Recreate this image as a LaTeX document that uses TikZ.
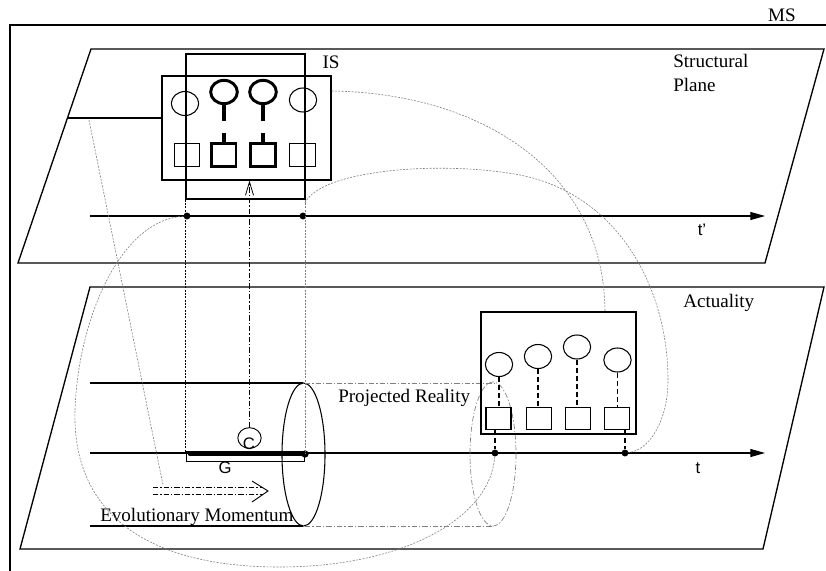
\documentclass[tikz,border=0pt]{standalone}
\usepackage{fontspec}
\setmainfont{Liberation Serif}
\setsansfont{Liberation Sans}
\usetikzlibrary{arrows.meta, shapes.geometric}

\tikzset{
  plane/.style={line width=1pt},
  axis/.style={line width=0.8pt, -{Triangle[length=11pt, width=6pt]}},
  bub/.style={draw, ellipse, line width=0.8pt, minimum width=20.5pt, minimum height=18pt, inner sep=0pt},
  bubthick/.style={bub, line width=2.2pt, minimum width=20pt, minimum height=17.5pt},
  sq/.style={draw, rectangle, line width=0.8pt, minimum width=19pt, minimum height=17.5pt, inner sep=0pt},
  sqthick/.style={sq, line width=2pt, minimum width=18.5pt, minimum height=17.5pt},
  stem/.style={line width=3pt},
  tie/.style={line width=1pt, dash pattern=on 3.75pt off 2.25pt},
  link/.style={gray, line width=0.45pt, dash pattern=on 1.5pt off 1pt},
  proj/.style={gray, line width=0.5pt, dash pattern=on 4pt off 1.5pt on 1pt off 1.5pt},
  dashdot/.style={line width=0.6pt, dash pattern=on 4pt off 1.5pt on 1pt off 1.5pt},
  lbl/.style={font=\fontsize{14.3}{18}\selectfont, inner sep=0pt},
  tlbl/.style={font=\sffamily\fontsize{12.5}{14}\selectfont, inner sep=0pt},
  dot/.style={circle, fill, inner sep=0pt, minimum size=5.2pt}
}

\begin{document}
\begin{tikzpicture}[x=0.75pt, y=-0.75pt, >=Stealth]
\useasboundingbox (0,0) rectangle (826,571);

\draw[line width=0.8pt] (10,571) -- (10,25) -- (826,25);
\node[lbl] (ms) at (782,15) {MS};

\draw[plane] (91,49) -- (824,49) -- (765,263) -- (18,263) -- cycle;
\node[lbl, anchor=north west, align=left] (structural) at (673,54) {Structural\\Plane};
\draw[plane] (90,287) -- (824,287) -- (763,549) -- (20,549) -- cycle;
\node[lbl, anchor=base west] (actuality) at (683,307) {Actuality};

\coordinate (tp0) at (90,216);
\coordinate (tp1) at (765,216);
\draw[axis] (tp0) -- (tp1);
\node[tlbl] (tprime) at (702,230) {t'};
\node[dot] (u1) at (187,216) {};
\node[dot] (u2) at (303,216) {};

\node[draw, line width=0.8pt, minimum width=126.75pt, minimum height=78pt] (isbox) at (246.5,128) {};
\node[draw, line width=0.8pt, minimum width=89.25pt, minimum height=108.75pt] (tallbox) at (245.5,126.5) {};
\node[lbl] (is) at (331,62) {IS};
\coordinate (lp) at (68,118);
\draw[line width=0.8pt] (lp) -- (lp -| isbox.west);

\node[bub] (a1) at (185,103.5) {};
\node[bubthick] (a2) at (224,92) {};
\node[bubthick] (a3) at (263,92) {};
\node[bub] (a4) at (303,100) {};
\node[sq] (b1) at (187,155) {};
\node[sqthick] (b2) at (223.5,155) {};
\node[sqthick] (b3) at (263,155) {};
\node[sq] (b4) at (302.5,155) {};
\draw[stem] (a2.south) -- ++(0,16);
\draw[stem] (a3.south) -- ++(0,16);
\draw[stem] (b2.north) -- ++(0,-9);
\draw[stem] (b3.north) -- ++(0,-9);

\coordinate (t0) at (90,453);
\coordinate (t1) at (765,453);
\draw[axis] (t0) -- (t1);
\node[tlbl] (tlab) at (698,468) {t};

\draw[line width=0.8pt] (90,383) -- (303,383);
\draw[line width=0.8pt] (90,526) -- (303,526);
\draw[line width=0.8pt] (303.5,454.5) ellipse [x radius=21.5, y radius=71.5];
\draw[proj] (305,383) -- (495,383);
\draw[proj] (305,526) -- (493,526);
\draw[proj] (493,454) ellipse [x radius=23, y radius=72];
\node[lbl, anchor=base west] (projected) at (338,402) {Projected Reality};

\draw[line width=0.6pt] (186,451) rectangle (304,461);
\coordinate (g1) at (190,454);
\node[dot, minimum size=5.5pt] (g2) at (305,454) {};
\draw[line width=3.2pt, line cap=round] (g1) -- (g2);
\node[tlbl] (glab) at (225,468) {G};
\node[draw, ellipse, line width=0.7pt, minimum width=17.5pt, minimum height=15.5pt, inner sep=0pt] (c) at (249.5,438) {};
\node[tlbl] (clab) at (249,444) {C};
\draw[dashdot, -{Straight Barb[length=10pt, width=6pt]}] (c.north) -- (c.north |- isbox.south);

\draw[line width=0.5pt, dash pattern=on 1.5pt off 1pt] (tallbox.south west) -- (tallbox.south west |- g1);
\draw[link] (tallbox.south east) -- (tallbox.south east |- g2);

\coordinate (em0) at (153,487);
\coordinate (em1) at (268,491);
\draw[dashdot] (em0) -- (263,487);
\draw[dashdot] (153,494) -- (263,494);
\draw[line width=0.7pt] (252,481) -- (em1) -- (252,502);
\node[lbl, anchor=base west] (evo) at (100,521) {Evolutionary Momentum};

\node[draw, line width=0.9pt, minimum width=116.25pt, minimum height=91.5pt] (actbox) at (558.5,373) {};
\node[bub] (c1) at (499,364.5) {};
\node[bub] (c2) at (538,356.5) {};
\node[bub] (c3) at (577,347) {};
\node[bub] (c4) at (617.5,360) {};
\node[sq, minimum width=18.75pt, minimum height=17pt] (q1) at (498.5,418.5) {};
\node[sq, minimum width=18.75pt, minimum height=17pt] (q2) at (539,418.5) {};
\node[sq, minimum width=18.75pt, minimum height=17pt] (q3) at (578,418.5) {};
\node[sq, minimum width=18.75pt, minimum height=17pt] (q4) at (617,418.5) {};
\foreach \i in {1,...,4} {
  \draw[tie] (c\i.south) -- (c\i.south |- q\i.north);
}
\node[dot] (d1) at (495,453) {};
\node[dot] (d2) at (625,453) {};
\draw[tie] (q1.south -| d1) -- (d1);
\draw[tie] (q4.south -| d2) -- (d2);

\draw[link] (isbox.east |- 0,91) .. controls (480,93) and (604,170) .. (actbox.north -| 605,0);
\draw[link] (305,203) .. controls (320,170) and (440,160) .. (520,175)
  .. controls (620,195) and (668,290) .. (668,380)
  .. controls (668,420) and (650,450) .. (d2);
\draw[link] (u1) .. controls (120,220) and (78,320) .. (75,410)
  .. controls (72,500) and (130,567) .. (280,567)
  .. controls (400,567) and (490,520) .. (d1);
\draw[link] (89,120) -- (163,485);
\end{tikzpicture}
\end{document}
